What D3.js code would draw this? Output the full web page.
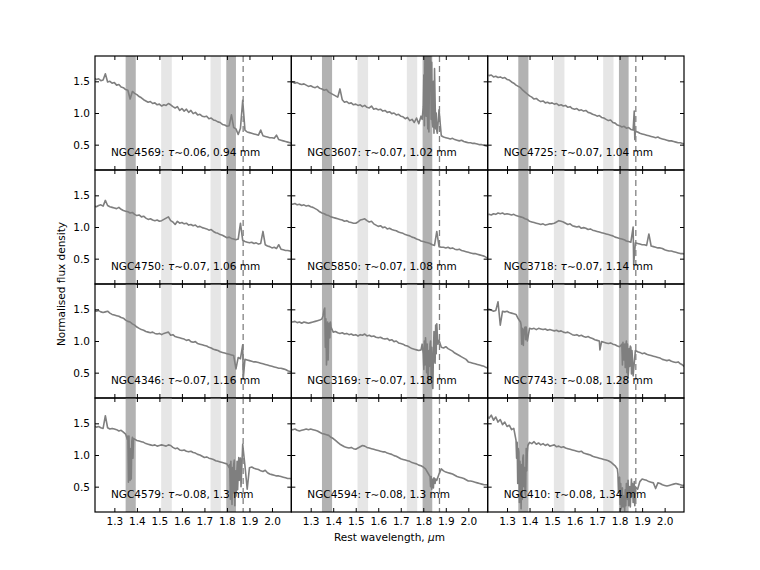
<!DOCTYPE html>
<html>
<head>
<meta charset="utf-8">
<script src="https://cdn.jsdelivr.net/npm/d3@7"></script>
<style>
  html, body { margin: 0; padding: 0; background: #fff; }
  svg text { font-family: "DejaVu Sans", sans-serif; }
</style>
</head>
<body>
<svg id="chart" width="760" height="570"></svg>
<script>
// ---------------- DATA ----------------
const wave = [
  1.21,1.22,1.23,1.24,1.25,1.26,1.27,1.28,1.29,1.30,
  1.31,1.32,1.33,1.34,1.35,1.36,1.37,1.38,1.39,1.40,
  1.41,1.42,1.43,1.44,1.45,1.46,1.47,1.48,1.49,1.50,
  1.51,1.52,1.53,1.54,1.55,1.56,1.57,1.58,1.59,1.60,
  1.61,1.62,1.63,1.64,1.65,1.66,1.67,1.68,1.69,1.70,
  1.71,1.72,1.73,1.74,1.75,1.76,1.77,1.78,1.79,1.80,
  1.81,1.82,1.83,1.84,1.85,1.86,1.87,1.88,1.89,1.90,
  1.91,1.92,1.93,1.94,1.95,1.96,1.97,1.98,1.99,2.00,
  2.01,2.02,2.03,2.04,2.05,2.06,2.07,2.08,2.09];

const galaxies = ["NGC4569","NGC3607","NGC4725","NGC4750","NGC5850","NGC3718",
                  "NGC4346","NGC3169","NGC7743","NGC4579","NGC4594","NGC410"];
const taus = ["0.06","0.07","0.07","0.07","0.07","0.07","0.07","0.07","0.08","0.08","0.08","0.08"];
const mms  = ["0.94","1.02","1.04","1.06","1.08","1.14","1.16","1.18","1.28","1.3","1.3","1.34"];

const flux4569 = [1.55,1.53,1.54,1.51,1.52,1.62,1.49,1.50,1.47,1.48,
  1.44,1.45,1.41,1.40,1.37,1.36,1.22,1.34,1.31,1.29,
  1.26,1.24,1.21,1.19,1.17,1.18,1.15,1.16,1.13,1.14,
  1.11,1.13,1.12,1.15,1.13,1.10,1.08,1.10,1.04,1.07,
  1.03,1.06,1.01,1.04,0.99,1.01,0.97,0.98,0.95,0.94,
  0.95,0.91,0.92,0.89,0.88,0.86,0.85,0.82,0.81,0.79,
  0.80,0.97,0.77,0.75,0.66,0.76,1.20,0.73,0.70,0.69,
  0.68,0.67,0.66,0.65,0.73,0.64,0.63,0.62,0.61,0.61,
  0.60,0.65,0.58,0.57,0.56,0.55,0.54,0.53,0.52];
const flux3607 = [1.50,1.49,1.47,1.48,1.46,1.45,1.46,1.44,1.42,1.43,
  1.41,1.40,1.42,1.39,1.38,1.36,1.37,1.33,1.31,1.29,
  1.27,1.25,1.38,1.21,1.17,1.18,1.15,1.16,1.13,1.14,
  1.12,1.13,1.10,1.12,1.09,1.08,1.11,1.06,1.07,1.05,
  1.06,1.03,1.04,1.01,1.02,0.99,1.00,0.97,0.98,0.95,
  0.94,0.91,0.93,0.88,0.90,0.85,0.92,0.83,0.95,1.10,
  1.85,0.75,1.95,0.85,1.70,0.72,1.05,0.64,0.62,0.61,
  0.60,0.59,0.60,0.58,0.57,0.56,0.57,0.55,0.54,0.53,
  0.53,0.52,0.52,0.51,0.50,0.50,0.49,0.48,0.47];
const flux4725 = [1.61,1.59,1.60,1.57,1.58,1.56,1.57,1.55,1.56,1.53,
  1.52,1.49,1.47,1.44,1.42,1.40,1.36,1.33,1.30,1.27,
  1.25,1.22,1.23,1.20,1.18,1.19,1.16,1.17,1.15,1.16,
  1.14,1.15,1.12,1.13,1.11,1.12,1.09,1.10,1.07,1.06,
  1.07,1.04,1.05,1.03,1.04,1.01,1.00,0.98,0.97,0.95,
  0.96,0.93,0.92,0.90,0.88,0.89,0.85,0.84,0.81,0.80,
  0.78,0.79,0.76,0.77,0.74,0.73,0.71,0.70,0.68,0.67,
  0.66,0.65,0.64,0.63,0.62,0.61,0.62,0.60,0.59,0.58,
  0.57,0.56,0.56,0.55,0.54,0.53,0.53,0.52,0.51];
const flux4750 = [1.33,1.32,1.34,1.35,1.33,1.42,1.34,1.32,1.31,1.30,
  1.29,1.31,1.28,1.26,1.25,1.24,1.22,1.23,1.20,1.18,
  1.19,1.16,1.17,1.14,1.12,1.13,1.11,1.10,1.11,1.09,
  1.10,1.12,1.14,1.16,1.10,1.08,1.04,1.09,1.06,1.07,
  1.05,1.06,1.03,1.04,1.02,1.03,1.00,1.01,0.99,0.98,
  0.97,0.95,0.96,0.93,0.91,0.90,0.88,0.87,0.85,0.83,
  0.84,0.82,0.81,0.80,0.81,1.06,0.79,0.77,0.76,0.75,
  0.76,0.74,0.75,0.73,0.74,0.93,0.72,0.70,0.69,0.67,
  0.68,0.66,0.72,0.65,0.64,0.63,0.63,0.62,0.61];
const flux5850 = [1.37,1.36,1.37,1.35,1.36,1.34,1.35,1.33,1.34,1.32,
  1.31,1.29,1.27,1.24,1.22,1.21,1.19,1.18,1.16,1.15,
  1.14,1.13,1.12,1.11,1.09,1.10,1.08,1.07,1.06,1.06,
  1.08,1.11,1.12,1.13,1.10,1.08,1.09,1.05,1.03,1.01,
  1.02,0.99,1.00,0.97,0.98,0.96,0.95,0.94,0.92,0.91,
  0.90,0.88,0.87,0.86,0.84,0.83,0.81,0.80,0.78,0.77,
  0.76,0.75,0.74,0.72,0.71,0.93,0.69,0.68,0.68,0.67,
  0.68,0.66,0.67,0.65,0.64,0.65,0.63,0.62,0.61,0.60,
  0.59,0.58,0.58,0.57,0.56,0.55,0.54,0.52,0.51];
const flux3718 = [1.19,1.20,1.19,1.21,1.20,1.22,1.21,1.22,1.20,1.21,
  1.20,1.19,1.20,1.18,1.17,1.16,1.15,1.13,1.12,1.09,
  1.08,1.07,1.06,1.05,1.04,1.05,1.03,1.04,1.05,1.05,
  1.06,1.08,1.10,1.09,1.08,1.06,1.04,1.05,1.02,1.01,
  1.00,1.01,0.98,0.99,0.98,0.96,0.97,0.95,0.94,0.93,
  0.92,0.91,0.90,0.89,0.88,0.87,0.86,0.84,0.83,0.82,
  0.81,0.80,0.78,0.77,0.76,1.00,0.75,0.74,0.73,0.72,
  0.72,0.71,0.89,0.70,0.69,0.68,0.67,0.67,0.66,0.64,
  0.63,0.62,0.62,0.61,0.60,0.59,0.58,0.58,0.57];
const flux4346 = [1.48,1.47,1.48,1.46,1.45,1.46,1.47,1.44,1.42,1.41,
  1.40,1.39,1.37,1.36,1.33,1.31,1.30,1.27,1.25,1.22,
  1.20,1.18,1.17,1.15,1.14,1.13,1.14,1.12,1.11,1.12,
  1.10,1.12,1.13,1.14,1.09,1.10,1.07,1.06,1.05,1.04,
  1.03,1.01,1.02,0.99,0.98,0.99,0.96,0.95,0.94,0.93,
  0.92,0.90,0.89,0.87,0.86,0.85,0.83,0.82,0.81,0.80,
  0.79,0.78,0.77,0.56,0.74,0.72,0.94,0.71,0.70,0.69,
  0.68,0.67,0.67,0.66,0.65,0.64,0.63,0.62,0.61,0.60,
  0.59,0.58,0.57,0.57,0.56,0.55,0.53,0.52,0.51];
const flux3169 = [1.31,1.30,1.31,1.29,1.30,1.28,1.30,1.29,1.28,1.29,
  1.30,1.31,1.32,1.33,1.35,1.50,0.62,1.25,1.22,1.14,
  1.15,1.13,1.12,1.13,1.11,1.12,1.10,1.11,1.09,1.10,
  1.08,1.10,1.09,1.11,1.08,1.09,1.07,1.08,1.06,1.05,
  1.06,1.04,1.03,1.04,1.01,1.02,0.99,1.00,0.97,0.96,
  0.95,0.93,0.92,0.90,0.88,0.87,0.86,0.85,0.86,0.80,
  1.05,0.45,0.95,0.30,0.70,1.27,1.01,0.90,0.89,0.91,
  0.88,0.86,0.84,0.81,0.79,0.77,0.75,0.73,0.71,0.67,
  0.66,0.65,0.64,0.63,0.62,0.61,0.60,0.58,0.57];
const flux7743 = [1.51,1.50,1.49,1.47,1.48,1.62,1.25,1.47,1.46,1.47,
  1.45,1.44,1.43,1.42,1.35,1.30,1.05,1.22,1.00,1.20,
  1.19,1.20,1.18,1.20,1.19,1.18,1.19,1.17,1.18,1.17,
  1.16,1.17,1.15,1.16,1.14,1.13,1.14,1.12,1.10,1.09,
  1.10,1.08,1.09,1.07,1.06,1.07,1.05,1.04,1.02,1.01,
  1.00,0.99,0.98,0.97,0.96,0.97,0.95,0.94,0.92,0.91,
  0.95,0.70,1.00,0.55,0.90,0.45,0.85,0.83,0.82,0.80,
  0.81,0.79,0.78,0.77,0.76,0.75,0.74,0.73,0.71,0.70,
  0.69,0.70,0.68,0.67,0.66,0.67,0.64,0.62,0.59];
const flux4579 = [1.46,1.44,1.45,1.43,1.42,1.62,1.43,1.41,1.42,1.41,
  1.40,1.38,1.39,1.36,1.33,1.30,0.60,1.28,1.25,1.23,
  1.22,1.21,1.20,1.18,1.17,1.16,1.15,1.16,1.14,1.15,
  1.16,1.15,1.14,1.16,1.15,1.12,1.10,1.11,1.08,1.07,
  1.08,1.06,1.05,1.06,1.04,1.03,1.01,1.00,0.98,0.96,
  0.97,0.95,0.94,0.93,0.91,0.90,0.89,0.88,0.87,0.86,
  0.80,0.55,0.85,0.35,0.70,0.95,1.17,0.83,0.46,0.80,
  0.81,0.79,0.78,0.77,0.75,0.74,0.76,0.72,0.70,0.69,
  0.68,0.67,0.67,0.66,0.65,0.64,0.63,0.63,0.62];
const flux4594 = [1.41,1.40,1.41,1.39,1.38,1.39,1.40,1.41,1.40,1.41,
  1.40,1.39,1.38,1.36,1.34,1.33,1.32,1.31,1.28,1.26,
  1.23,1.20,1.17,1.15,1.13,1.12,1.11,1.12,1.10,1.09,
  1.11,1.13,1.15,1.14,1.12,1.11,1.10,1.09,1.08,1.07,
  1.06,1.05,1.05,1.03,1.02,1.01,0.99,0.98,0.96,0.94,
  0.93,0.92,0.91,0.90,0.88,0.87,0.86,0.84,0.83,0.81,
  0.78,0.72,0.66,0.58,0.62,0.60,0.70,0.78,0.75,0.73,
  0.72,0.71,0.70,0.68,0.66,0.65,0.64,0.63,0.61,0.59,
  0.59,0.58,0.57,0.56,0.55,0.54,0.53,0.53,0.52];
const flux410 = [1.62,1.58,1.63,1.55,1.60,1.52,1.56,1.48,1.52,1.45,
  1.47,1.40,1.42,1.23,1.10,0.60,0.95,0.40,1.05,1.20,
  1.18,1.21,1.17,1.19,1.16,1.18,1.15,1.17,1.14,1.15,
  1.16,1.13,1.14,1.12,1.13,1.11,1.10,1.09,1.08,1.07,
  1.06,1.05,1.06,1.03,1.02,1.01,1.00,0.98,0.97,0.96,
  0.95,0.94,0.93,0.92,0.91,0.89,0.86,0.83,0.78,0.65,
  0.45,0.30,0.55,0.20,0.40,0.25,0.50,0.46,0.58,0.62,
  0.61,0.60,0.58,0.57,0.56,0.47,0.56,0.55,0.53,0.52,
  0.51,0.52,0.53,0.54,0.55,0.54,0.53,0.52,0.52];

// extra samples in the noisy telluric regions: [wavelength, flux]
const extra4725 = [[1.865,1.03],[1.8675,0.58]];
const extra3718 = [[1.8625,0.41]];
const extra4346 = [[1.8725,0.41]];
const extra3607 = [[1.795,0.90],[1.8025,1.60],[1.805,0.80],[1.8075,2.0],[1.8125,0.95],[1.815,2.0],
  [1.8175,1.1],[1.8225,1.9],[1.825,0.70],[1.8275,1.6],[1.8325,2.0],[1.835,0.9],[1.8375,1.8],
  [1.8425,0.78],[1.845,1.5],[1.8475,0.68],[1.8525,1.2],[1.855,0.75],[1.8575,1.0],[1.8625,0.68]];
const extra3169 = [[1.355,1.40],[1.3625,1.52],[1.365,0.90],[1.3675,1.35],[1.3725,0.80],[1.375,1.30],
  [1.3775,0.70],[1.3825,1.28],[1.385,1.05],[1.3875,1.30],[1.795,0.95],[1.8025,0.55],[1.805,1.0],
  [1.8075,0.62],[1.8125,0.90],[1.815,0.50],[1.8175,0.95],[1.8225,0.35],[1.825,0.85],[1.8275,0.60],
  [1.8325,1.00],[1.835,0.40],[1.8375,0.90],[1.8425,0.25],[1.845,0.80],[1.8475,1.15],[1.8525,0.65],
  [1.855,1.25],[1.8575,0.80],[1.8625,1.10],[1.865,0.95]];
const extra7743 = [[1.3625,1.25],[1.365,0.95],[1.3675,1.20],[1.3725,0.93],[1.375,1.18],[1.3825,1.02],
  [1.385,1.22],[1.7125,0.86],[1.8125,0.62],[1.815,0.98],[1.8175,0.75],[1.8225,0.95],[1.825,0.58],
  [1.8275,0.92],[1.8325,0.50],[1.835,0.95],[1.8375,0.42],[1.8425,0.88],[1.845,0.60],[1.8475,0.92],
  [1.8525,0.48],[1.855,0.85],[1.8575,0.70]];
const extra4579 = [[1.3575,1.25],[1.3625,0.57],[1.365,1.30],[1.3675,0.70],[1.3725,1.10],[1.375,0.62],
  [1.3775,1.22],[1.3825,0.95],[1.385,1.26],[1.8125,0.85],[1.815,0.30],[1.8175,0.90],[1.8225,0.22],
  [1.825,0.80],[1.8275,0.40],[1.8325,0.92],[1.835,0.20],[1.8375,0.75],[1.8425,0.55],[1.845,0.90],
  [1.8475,0.45],[1.8525,0.96],[1.855,0.60],[1.8575,0.85],[1.8625,0.50]];
const extra4594 = [[1.8325,0.50],[1.835,0.66],[1.8375,0.46],[1.8425,0.62],[1.845,0.48],[1.8475,0.64],
  [1.8525,0.55],[1.855,0.62]];
const extra410 = [[1.3425,0.95],[1.345,1.20],[1.3475,0.55],[1.3525,1.05],[1.355,0.25],[1.3575,0.90],
  [1.3625,0.15],[1.365,0.85],[1.3675,0.30],[1.3725,1.00],[1.375,0.50],[1.3775,0.80],[1.3825,0.35],
  [1.385,1.10],[1.3875,0.75],[1.3925,1.15],[1.7925,0.70],[1.795,0.40],[1.7975,0.60],[1.8025,0.22],
  [1.805,0.55],[1.8075,0.15],[1.8125,0.48],[1.815,0.18],[1.8175,0.35],[1.8225,0.12],[1.825,0.45],
  [1.8275,0.20],[1.8325,0.55],[1.835,0.30],[1.8375,0.60],[1.8425,0.25],[1.845,0.50],[1.8475,0.18],
  [1.8525,0.62],[1.855,0.35],[1.8575,0.55],[1.8625,0.30],[1.865,0.58],[1.8675,0.20]];

const fluxes = [flux4569, flux3607, flux4725, flux4750, flux5850, flux3718,
                flux4346, flux3169, flux7743, flux4579, flux4594, flux410];
const extras = [[], extra3607, extra4725, [], [], extra3718,
                extra4346, extra3169, extra7743, extra4579, extra4594, extra410];

const darkBands  = [[1.350, 1.395], [1.797, 1.840]];
const lightBands = [[1.508, 1.555], [1.727, 1.773]];
const paAlpha = 1.872;
const xTicks = [1.3, 1.4, 1.5, 1.6, 1.7, 1.8, 1.9, 2.0];
const yTicks = [0.5, 1.0, 1.5];
const xDomain = [1.214, 2.086];
const yDomain = [0.1, 1.9];

// ---------------- LAYOUT ----------------
const svg = d3.select("#chart");
svg.append("rect").attr("width", 760).attr("height", 570).attr("fill", "#fff");

const L = 95, R = 684, T = 56, B = 512, nCols = 3, nRows = 4;
const pw = (R - L) / nCols, ph = (B - T) / nRows;
const x = d3.scaleLinear().domain(xDomain).range([0, pw]);
const y = d3.scaleLinear().domain(yDomain).range([ph, 0]);
const FS = "10.5px";

const defs = svg.append("defs");
defs.append("clipPath").attr("id", "clip")
  .append("rect").attr("width", pw).attr("height", ph);

const line = d3.line().x(d => x(d[0])).y(d => y(d[1]));

galaxies.forEach((name, k) => {
  const col = k % nCols, row = Math.floor(k / nCols);
  const g = svg.append("g").attr("transform", `translate(${L + col * pw},${T + row * ph})`);
  const inner = g.append("g").attr("clip-path", "url(#clip)");

  inner.selectAll("rect.dark").data(darkBands).join("rect")
    .attr("x", d => x(d[0])).attr("width", d => x(d[1]) - x(d[0]))
    .attr("y", 0).attr("height", ph).attr("fill", "#b2b2b2");
  inner.selectAll("rect.light").data(lightBands).join("rect")
    .attr("x", d => x(d[0])).attr("width", d => x(d[1]) - x(d[0]))
    .attr("y", 0).attr("height", ph).attr("fill", "#e6e6e6");

  const pts = wave.map((w, i) => [w, fluxes[k][i]]).concat(extras[k]);
  pts.sort((a, b) => a[0] - b[0]);
  inner.append("path").datum(pts).attr("d", line)
    .attr("fill", "none").attr("stroke", "#7f7f7f").attr("stroke-width", 1.6)
    .attr("stroke-linejoin", "round");

  inner.append("line").attr("x1", x(paAlpha)).attr("x2", x(paAlpha))
    .attr("y1", 0).attr("y2", ph)
    .attr("stroke", "#808080").attr("stroke-width", 1.3).attr("stroke-dasharray", "6,4");

  // axes with inward ticks
  const axB = g.append("g").attr("transform", `translate(0,${ph})`)
    .call(d3.axisBottom(x).tickValues(xTicks).tickSizeInner(-4).tickSizeOuter(0).tickPadding(6)
      .tickFormat(row === nRows - 1 ? d3.format(".1f") : () => ""));
  const axT = g.append("g")
    .call(d3.axisTop(x).tickValues(xTicks).tickSizeInner(-4).tickSizeOuter(0).tickFormat(() => ""));
  const axL = g.append("g")
    .call(d3.axisLeft(y).tickValues(yTicks).tickSizeInner(-4).tickSizeOuter(0).tickPadding(5)
      .tickFormat(col === 0 ? d3.format(".1f") : () => ""));
  const axR = g.append("g").attr("transform", `translate(${pw},0)`)
    .call(d3.axisRight(y).tickValues(yTicks).tickSizeInner(-4).tickSizeOuter(0).tickFormat(() => ""));
  [axB, axT, axL, axR].forEach(a => {
    a.select(".domain").remove();
    a.selectAll("line").attr("stroke", "#000").attr("stroke-width", 1);
    a.selectAll("text").attr("font-size", FS).attr("font-family", "DejaVu Sans").attr("fill", "#000");
  });

  g.append("rect").attr("width", pw).attr("height", ph)
    .attr("fill", "none").attr("stroke", "#000").attr("stroke-width", 1.2);

  const t = g.append("text").attr("x", 16).attr("y", ph - 14)
    .attr("font-size", FS).attr("fill", "#000");
  t.append("tspan").text(name + ": ");
  t.append("tspan").attr("font-style", "italic").text("τ");
  t.append("tspan").text("∼" + taus[k] + ", " + mms[k] + " mm");
});

// axis titles
svg.append("text").attr("transform", `translate(65,${(T + B) / 2}) rotate(-90)`)
  .attr("text-anchor", "middle").attr("font-size", FS).text("Normalised flux density");
const xl = svg.append("text").attr("x", (L + R) / 2).attr("y", 541)
  .attr("text-anchor", "middle").attr("font-size", FS);
xl.append("tspan").text("Rest wavelength, ");
xl.append("tspan").attr("font-style", "italic").text("μ");
xl.append("tspan").text("m");
</script>
</body>
</html>
